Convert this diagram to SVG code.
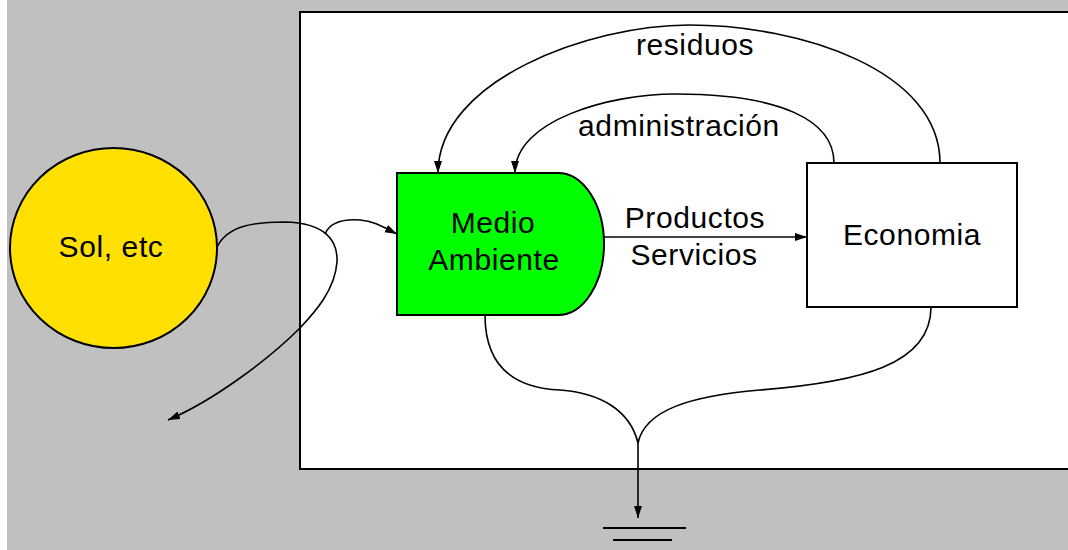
<svg xmlns="http://www.w3.org/2000/svg" width="1068" height="550" viewBox="0 0 1068 550">
<style>
  .lbl { font-family: "Liberation Sans", Arial, sans-serif; font-size: 30px; fill: #000; text-anchor: middle; letter-spacing: 0.6px; }
  .node { stroke: #000; stroke-width: 2; }
  .conn { fill: none; stroke: #000; stroke-width: 1.6; }
</style>
<defs>
  <marker id="arr" markerUnits="userSpaceOnUse" markerWidth="14" markerHeight="10" refX="12" refY="4" orient="auto">
    <path d="M0,0 L12,4 L0,8 Z" fill="#000"/>
  </marker>
</defs>
<rect x="0" y="0" width="1068" height="550" fill="#ffffff"/>
<rect x="7" y="0" width="1061" height="550" fill="#c0c0c0"/>
<rect x="300" y="12" width="780" height="457" fill="#ffffff" stroke="#000" stroke-width="2"/>

<g id="sun">
  <ellipse class="node" cx="113.5" cy="248" rx="103.5" ry="100" fill="#ffe000"/>
  <text class="lbl" x="111" y="257">Sol, etc</text>
</g>

<g id="medio-ambiente">
  <path class="node" d="M397,173 H558 A46,71 0 0 1 558,315 H397 Z" fill="#00ff00"/>
  <text class="lbl" x="493" y="233">Medio</text>
  <text class="lbl" x="494" y="270">Ambiente</text>
</g>

<g id="economia">
  <rect class="node" x="807" y="163" width="210" height="144" fill="#ffffff"/>
  <text class="lbl" x="912" y="245">Economia</text>
</g>

<g id="ground">
  <line x1="603" y1="528" x2="686" y2="528" stroke="#000" stroke-width="2"/>
  <line x1="613" y1="540" x2="672" y2="540" stroke="#000" stroke-width="2"/>
</g>

<g id="connectors">
  <path class="conn" d="M217,247 C228,225 255,222 285,222 C325,223 338,240 337,262 C335,290 315,312 300,328 C270,358 215,400 168,420" marker-end="url(#arr)"/>
  <path class="conn" d="M325,234 C330,222 345,219 360,220 C375,221 385,228 397,234" marker-end="url(#arr)"/>
  <path class="conn" d="M603,237 H807" marker-end="url(#arr)"/>
  <path class="conn" d="M940,163 C940,70 800,25 689,25 C590,25 438,80 438,173" marker-end="url(#arr)"/>
  <path class="conn" d="M834,163 C834,120 780,94 675,94 C610,94 515,120 515,173" marker-end="url(#arr)"/>
  <path class="conn" d="M485,315 C485,365 512,388 560,390 C600,393 630,410 638,443"/>
  <path class="conn" d="M931,307 C931,365 860,382 760,390 C690,396 645,410 638,443"/>
  <path class="conn" d="M638,443 V518" marker-end="url(#arr)"/>
  <text class="lbl" x="695" y="55">residuos</text>
  <text class="lbl" x="679" y="136">administración</text>
  <text class="lbl" x="695" y="228">Productos</text>
  <text class="lbl" x="694" y="265">Servicios</text>
</g>
</svg>
